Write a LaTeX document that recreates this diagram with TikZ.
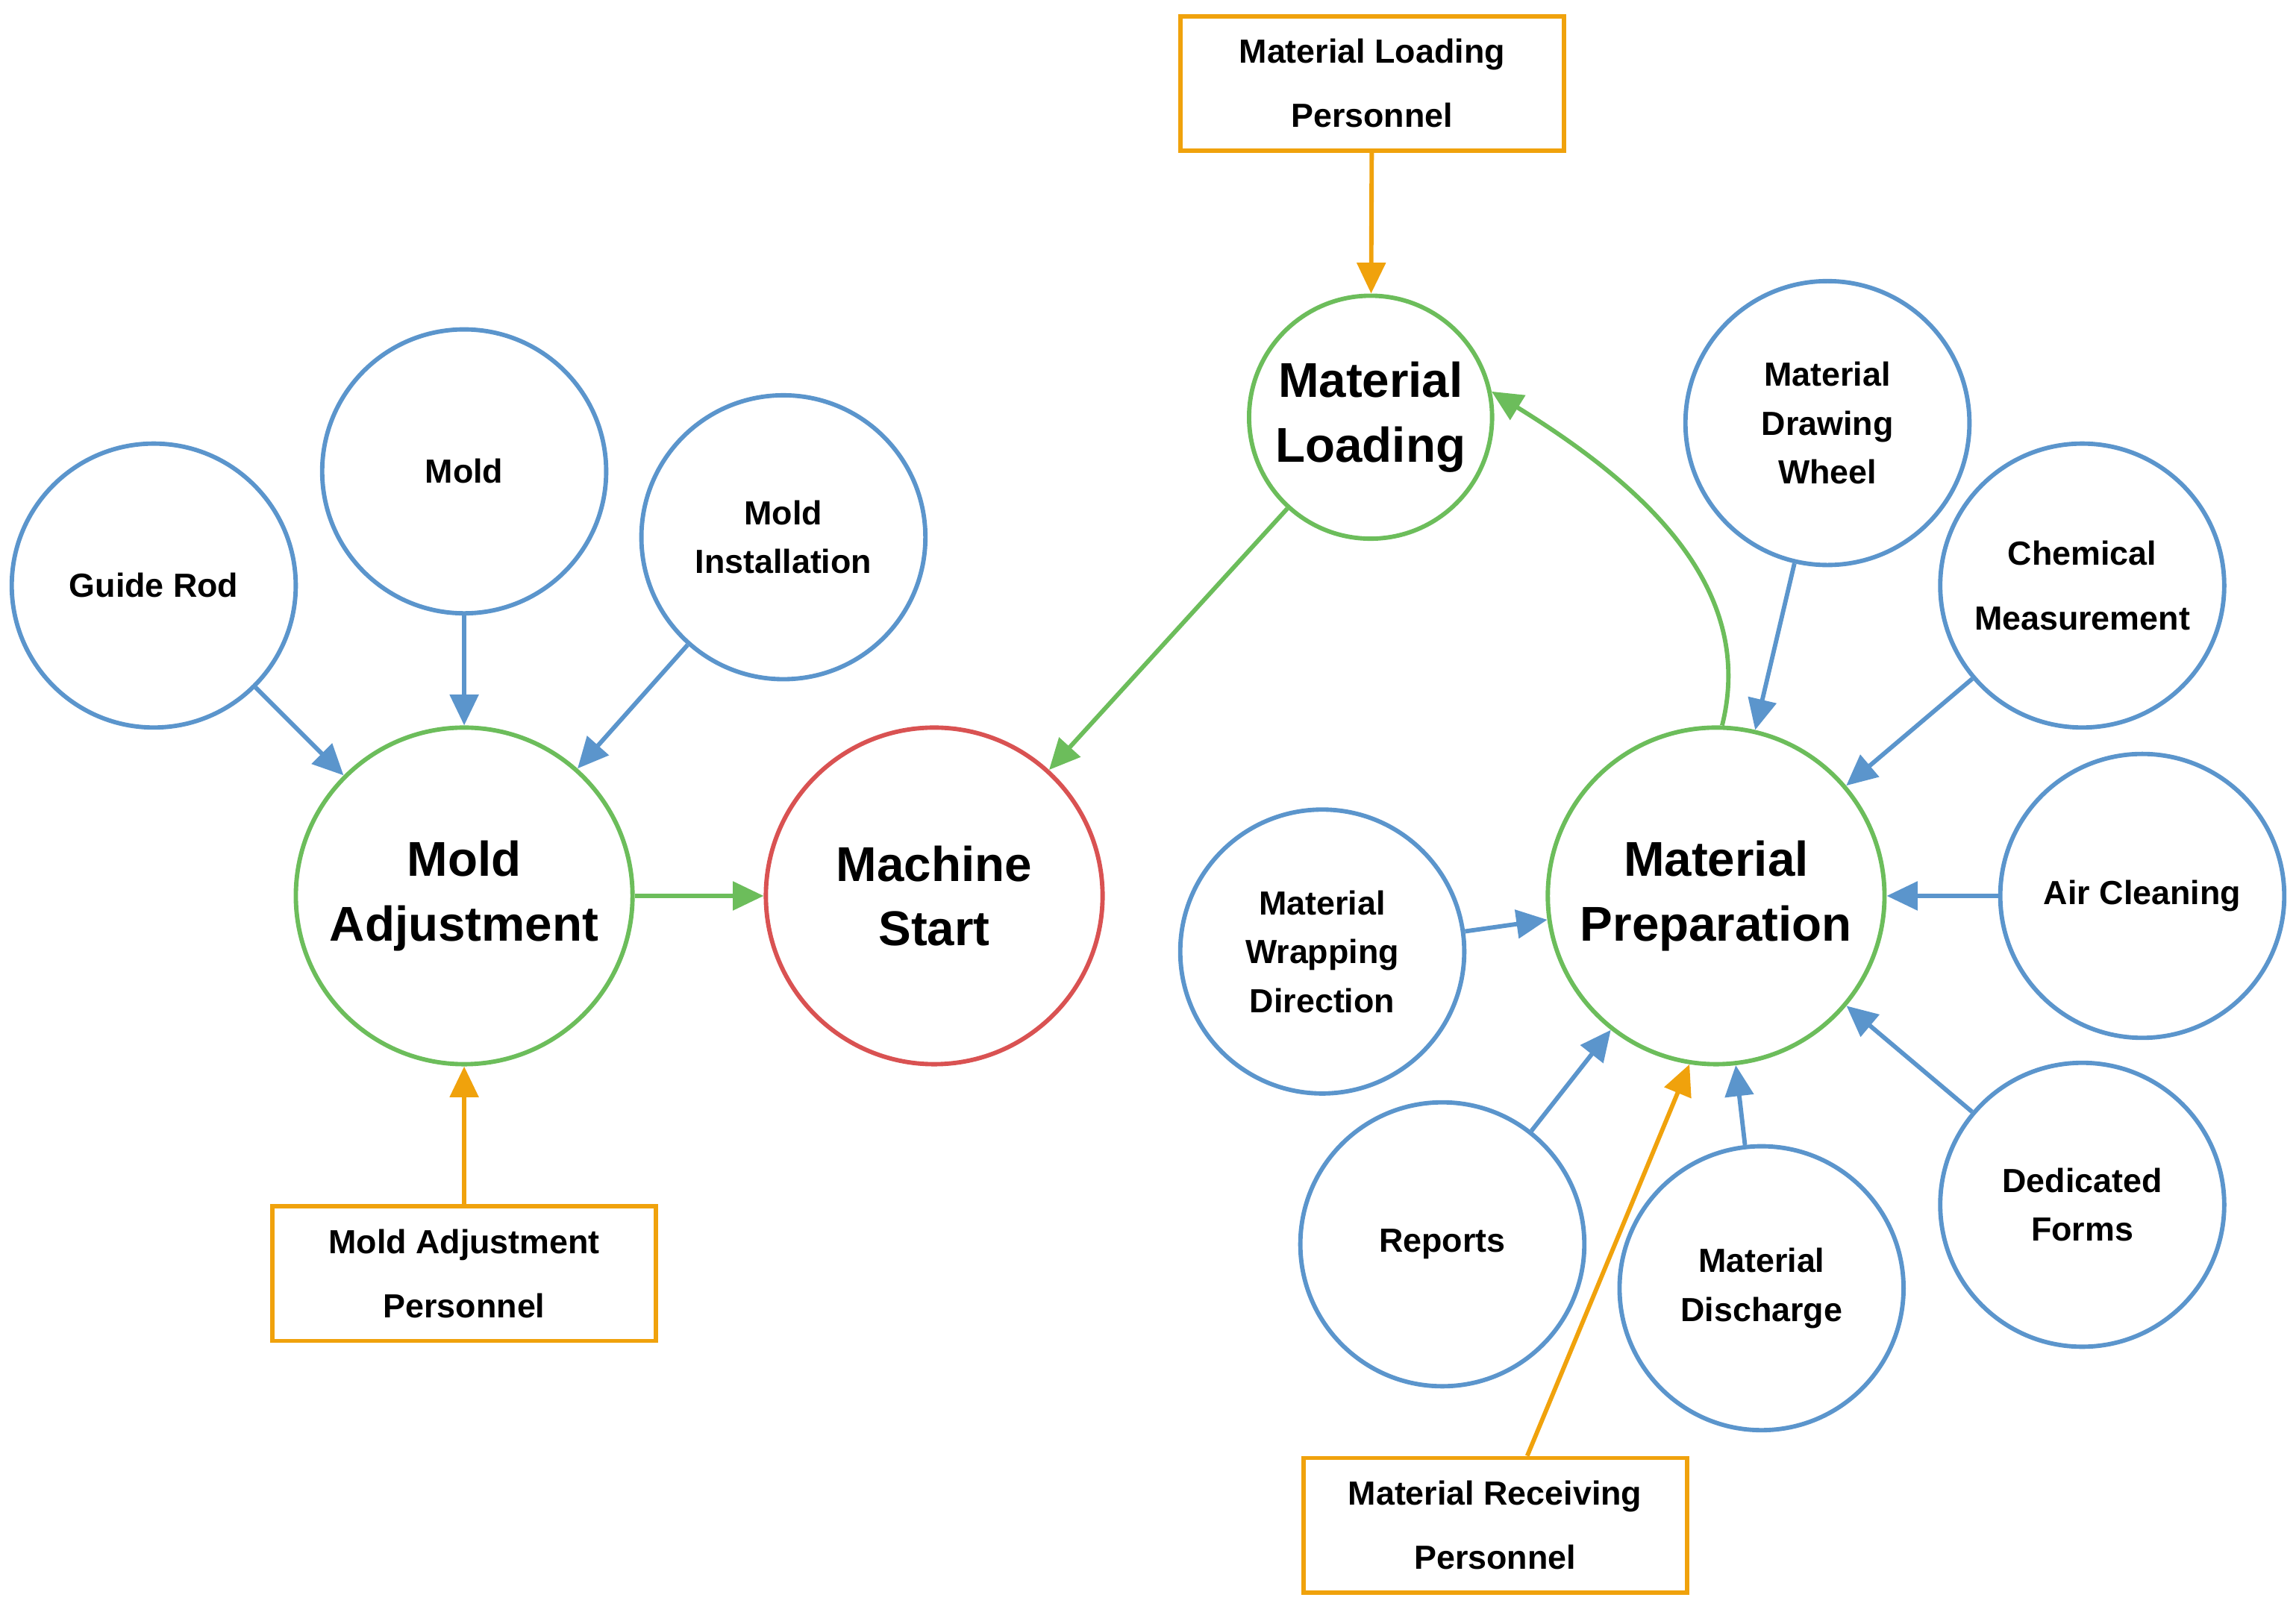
\documentclass[tikz,border=0pt]{standalone}
\usepackage{fontspec}
\setmainfont{Liberation Sans}
\usetikzlibrary{arrows.meta,calc}
\definecolor{cb}{HTML}{5B95CC}
\definecolor{cg}{HTML}{6CBD5B}
\definecolor{cr}{HTML}{D95252}
\definecolor{co}{HTML}{F0A20C}
\begin{document}
\begin{tikzpicture}[x=0.02cm,y=-0.02cm,
  sm/.style={circle,draw=cb,line width=1.7pt,minimum size=3.88cm,inner sep=0pt,align=center,font=\bfseries\fontsize{13}{19}\selectfont},
  big/.style={circle,draw=cg,line width=1.7pt,minimum size=4.6cm,inner sep=0pt,align=center,font=\bfseries\fontsize{19}{25}\selectfont},
  box/.style={rectangle,draw=co,line width=1.7pt,minimum width=5.24cm,minimum height=1.84cm,align=center,font=\bfseries\fontsize{13}{25}\selectfont},
  ab/.style={draw=cb,line width=1.7pt,-{Triangle[length=12pt,width=11pt]}},
  ag/.style={draw=cg,line width=1.7pt,-{Triangle[length=12pt,width=11pt]}},
  ao/.style={draw=co,line width=1.7pt,-{Triangle[length=12pt,width=11pt]}}]
\useasboundingbox (0,0) rectangle (1568,1105);
\node[sm] (gr) at (105,400) {Guide Rod};
\node[sm] (mo) at (317,322) {Mold};
\node[sm] (mi) at (535,367) {Mold\\Installation};
\node[big] (ma) at (317,612) {Mold\\Adjustment};
\node[big,draw=cr] (ms) at (638,612) {Machine\\Start};
\node[big,minimum size=3.32cm] (ml) at (936,285) {Material\\Loading};
\node[big] (mp) at (1172,612) {Material\\Preparation};
\node[sm] (dw) at (1248,289) {Material\\Drawing\\Wheel};
\node[sm,font=\bfseries\fontsize{13}{25}\selectfont] (cm) at (1422,400) {Chemical\\Measurement};
\node[sm] (ac) at (1463,612) {Air Cleaning};
\node[sm] (df) at (1422,823) {Dedicated\\Forms};
\node[sm] (md) at (1203,880) {Material\\Discharge};
\node[sm] (re) at (985,850) {Reports};
\node[sm] (wd) at (903,650) {Material\\Wrapping\\Direction};
\node[box] (lp) at (937,57) {Material Loading\\Personnel};
\node[box] (ap) at (317,870) {Mold Adjustment\\Personnel};
\node[box] (rp) at (1021,1042) {Material Receiving\\Personnel};
\draw[ab] (gr) -- (ma);
\draw[ab] (mo) -- (ma);
\draw[ab] (mi) -- (ma);
\draw[ag] (ma) -- (ms);
\draw[ag] (ml) -- (ms);
\draw[ao] (lp) -- (ml);
\draw[ao] (ap) -- (ma);
\draw[ab] (dw) -- (mp);
\draw[ab] (cm) -- (mp);
\draw[ab] (ac) -- (mp);
\draw[ab] (df) -- (mp);
\draw[ab] (md) -- (mp);
\draw[ab] (re) -- (mp);
\draw[ab] (wd) -- (mp);
\draw[ao] ($(rp.north)+(22,0)$) -- (mp.261);
\draw[ag] (mp.88) .. controls (1200,400) and (1120,330) .. (ml.12);
\end{tikzpicture}
\end{document}
